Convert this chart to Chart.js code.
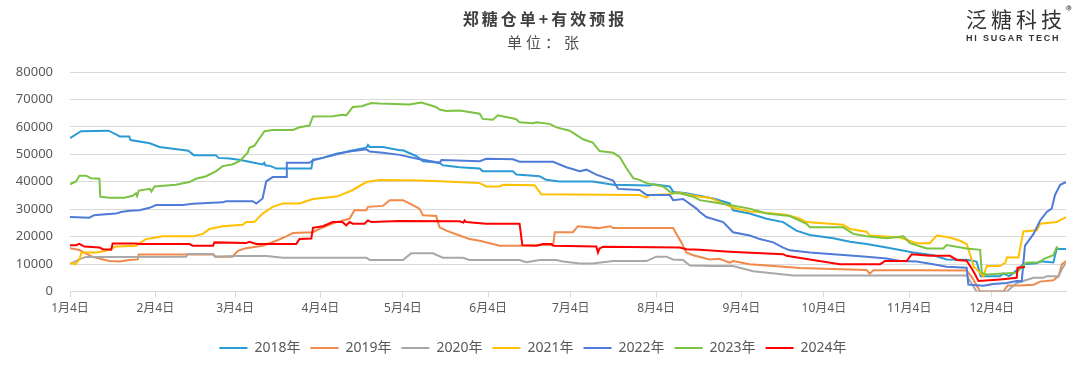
<!DOCTYPE html>
<html>
<head>
<meta charset="utf-8">
<script src="https://cdn.jsdelivr.net/npm/chart.js@4.4.1/dist/chart.umd.min.js"></script>
<style>
  html, body { margin: 0; padding: 0; background: #fff; }
  #wrap { position: relative; width: 1080px; height: 365px; font-family: "Noto Sans CJK SC", "Noto Sans", sans-serif; }
  #chart { position: absolute; left: 0; top: 0; }
  .title { position: absolute; left: 0; width: 1090px; text-align: center; color: #404040; white-space: nowrap; }
  #t1 { top: 7px; font-size: 16px; font-weight: bold; letter-spacing: 3px; line-height: 22px; }
  #t2 { top: 32px; font-size: 15px; letter-spacing: 4px; line-height: 20px; color: #505050; }
  #logo { position: absolute; left: 966px; top: 5px; color: #333; }
  #logo .cn { font-size: 21px; letter-spacing: 4px; line-height: 26px; }
  #logo .en { font-family: "Liberation Sans", sans-serif; font-size: 9px; font-weight: bold; letter-spacing: 1.8px; line-height: 10px; margin-top: 2px; }
  #logo .r { position: absolute; left: 100px; top: -4px; font-size: 12px; }
</style>
</head>
<body>
<div id="wrap">
  <canvas id="chart" width="1080" height="365"></canvas>
  <div class="title" id="t1">郑糖仓单+有效预报</div>
  <div class="title" id="t2">单位：张</div>
  <div id="logo"><div class="cn">泛糖科技</div><div class="en">HI SUGAR TECH</div><span class="r">®</span></div>
</div>
<script>
// x = 距 1月4日 的天数, y = 张
const monthTicks = [0, 31, 60, 91, 121, 152, 182, 213, 244, 274, 305, 335];
const monthLabels = ['1月4日', '2月4日', '3月4日', '4月4日', '5月4日', '6月4日',
  '7月4日', '8月4日', '9月4日', '10月4日', '11月4日', '12月4日'];
const years = ['2018年', '2019年', '2020年', '2021年', '2022年', '2023年', '2024年'];
const colors = ['#2A9BD5', '#F0894A', '#A8A8A8', '#FFC000', '#4F7BD9', '#7CC243', '#FF0000'];

const y2018 = [[0,55900],[4,58400],[14,58600],[16.5,57400],[18,56500],[21.5,56500],[22,55200],[29,54000],[32.5,52700],[41,51600],[43,51300],[45,49700],[53,49700],[54,48700],[58,48500],[62,47900],[66,47100],[70,46300],[70.6,46900],[71,46000],[73,45700],[75,44800],[87.7,44800],[88.3,48100],[91.9,48700],[97,50000],[101.6,51200],[107.7,52400],[108.3,53400],[108.9,52700],[113.7,52700],[119.8,51500],[121,51450],[125.8,49400],[128.3,47500],[134.3,46900],[135.5,46000],[141.6,45300],[148.9,44800],[150,43800],[161,43800],[162.2,42600],[170.7,42000],[173,40700],[178,40100],[190,40100],[197.4,38900],[210.7,38600],[212,39100],[218,38300],[219.2,36400],[224,35800],[233.8,33900],[239.8,32100],[241,29600],[247,28400],[253.2,26500],[259.2,25300],[264,22200],[268.9,20600],[277.4,19400],[283.5,18100],[289.5,17300],[296.8,16000],[306.5,14200],[313.8,13200],[318.6,11700],[325.9,11600],[329.5,10900],[331,5600],[338,5600],[339.2,6600],[341.3,5600],[343,6800],[346.5,9900],[351.4,10300],[352.6,11000],[357.4,10600],[358.6,15500],[362,15500]];

const y2019 = [[0,15800],[3.4,15100],[8.2,12600],[14.3,11100],[18,10900],[21.6,11500],[24.6,11700],[25,13500],[52,13500],[53,12700],[59,12700],[61,14800],[64,15800],[70,16700],[75,18500],[78.6,20100],[81,21300],[88.3,21600],[90.7,22800],[96.8,25300],[101.6,26500],[103.4,29600],[107.7,29600],[108.3,30850],[113.7,31200],[116.2,33300],[121,33300],[124.6,31500],[127,30200],[128.3,27800],[133.1,27500],[134.3,23400],[136.8,22200],[141.6,20400],[145.2,19100],[148.9,18500],[153.7,17300],[156.2,16700],[165.9,16700],[173.1,17000],[175.6,16900],[176.2,21600],[182.8,21600],[184.6,23800],[192,23100],[196.2,23800],[197.4,23100],[219.2,23100],[222.2,17900],[224,14200],[226.5,13200],[232.5,11700],[236,11900],[239.8,10500],[241,11100],[247,9900],[253.2,9500],[265.3,8600],[283.5,8000],[289.5,7800],[290.7,6500],[292,7700],[307.7,7700],[325.9,7650],[328,4900],[330.8,0],[339.2,0],[340.8,2200],[345.3,2200],[350.2,2500],[352.6,3600],[357.4,4100],[359.3,5600],[360.5,9900],[362,11100]];

const y2020 = [[0,10100],[3.4,11700],[5.8,12600],[42.2,12700],[42.8,13700],[52,13700],[52.6,12700],[60.4,12950],[71.3,12950],[77.4,12300],[107.7,12300],[108.9,11500],[121,11500],[124,13900],[131.9,13900],[135.5,12300],[142.8,12300],[145.2,11500],[163.4,11500],[165.9,10700],[170.7,11500],[176.8,11500],[179.2,10900],[185.3,10200],[190,10200],[197.4,11100],[209.5,11100],[213.1,12700],[216.8,12700],[219.2,11700],[222.8,11500],[225.3,9500],[233.8,9250],[241,9250],[248.3,7400],[262.9,5800],[325.9,5800],[329.5,0],[340.5,0],[344.1,3100],[350.2,5000],[353.8,5000],[355,5600],[359.3,5600],[360.5,8100],[362,10500]];

const y2021 = [[0,10500],[2,9900],[3.4,11700],[4.2,14200],[9.5,14200],[13,14800],[16.7,16400],[24,16700],[27.6,19100],[31.3,19700],[33.7,20100],[44.6,20100],[48.3,21000],[50.7,22800],[55.5,23800],[62.8,24300],[64,25300],[67,25300],[70,28400],[73.7,30850],[77.4,32100],[83.4,32100],[88.3,33700],[96.8,34600],[99,35400],[102.8,37000],[107.7,39900],[112.5,40600],[127,40500],[136.8,40100],[148.9,39500],[151.3,38300],[156.2,38300],[157.4,38900],[168.9,38700],[171.3,35400],[207,35200],[209.5,34200],[210.7,35200],[218,35400],[220.4,36200],[228.9,34550],[232.5,34200],[241,30500],[247,29200],[260.4,28000],[265.3,26500],[267.7,25300],[281,24300],[283.5,22800],[289.5,21800],[290.7,20400],[301.7,19700],[307.7,17600],[312.5,17600],[315,20400],[319.8,19700],[323.5,18500],[325.9,17300],[326.5,15500],[328.5,9000],[332,5600],[333.2,9300],[338,9300],[340,10500],[340.5,12400],[344.7,12400],[346.5,21900],[351.4,22300],[352.6,24700],[358.6,25300],[362,27150]];

const y2022 = [[0,27150],[7,26900],[8.8,27800],[10.7,28000],[16.7,28400],[18.5,29000],[21.6,29400],[25.2,29600],[28.9,30500],[31.3,31500],[41,31500],[44.6,32000],[55.5,32500],[56.7,32900],[66.4,32900],[67.7,32100],[70,33900],[71.3,40100],[73.7,41700],[78.6,41700],[78.8,46900],[87,46900],[88.3,47800],[91.9,48700],[96.8,50200],[101.6,51000],[107.7,51800],[108.9,51000],[113.7,50600],[119.8,49800],[125.8,48500],[134.3,46900],[135,47900],[148.9,47500],[151.3,48400],[161,48200],[163.4,47300],[175.6,47300],[180.4,45300],[185.3,43800],[187.7,44400],[191.3,42600],[197.4,40400],[199.2,37400],[207,37000],[209.5,35200],[218,35200],[219.2,33300],[222.8,33700],[227.7,30200],[228.9,29000],[231.3,27150],[237.4,25300],[241,21600],[247.1,20400],[250.7,19100],[255.6,17900],[259.2,16000],[261.6,15000],[268.9,14200],[277.4,13600],[289.5,12700],[296.8,12000],[301.7,11100],[307.7,10900],[313.8,9900],[318.6,9000],[325.9,8700],[326.5,2500],[332,2100],[335.6,2700],[340.5,3100],[344.1,3800],[345.9,3700],[347.1,16700],[350.2,21000],[352.6,25900],[355,29000],[356.8,30200],[358,35200],[359.9,38900],[362,39900]];

const y2023 = [[0,39100],[2.2,40100],[3.4,42200],[5.8,42200],[7.6,41300],[10.7,41100],[11,34550],[14.3,34200],[19.7,34200],[22.8,34900],[24,35800],[24.4,34800],[25,36800],[29,37400],[29.6,36400],[30.7,38250],[38.5,38900],[43.4,39900],[45.8,41100],[49.5,42000],[53,43800],[55.5,45700],[59,46300],[61.6,47500],[64.6,50600],[65.2,52400],[67,53100],[70.7,58400],[73.7,58900],[81,58900],[83.4,59850],[87,60500],[88.3,63800],[95.5,63900],[99,64400],[100.4,64200],[102.8,67250],[106,67500],[109.5,68700],[112.5,68500],[123.4,68200],[127.7,68900],[133,67250],[134.3,66300],[136.8,65800],[141.6,66000],[148.9,64800],[150,62900],[153.7,62600],[155.5,64200],[162,62900],[163.4,61700],[168.3,61300],[169.5,61700],[174.3,61100],[176.8,59800],[181.6,58600],[184,57100],[186.5,55500],[190,54300],[192.5,51200],[197.4,50600],[199.8,49000],[202.2,45000],[204.7,41300],[207,40700],[209.5,39500],[215.6,38300],[218,36400],[219.2,35800],[221.6,35800],[226.5,34550],[228.9,33300],[233.8,32500],[239.8,31500],[247,30200],[253.2,28400],[261.6,27500],[267.7,24700],[268.9,23400],[281,23400],[284.7,21000],[289.5,20100],[296.8,19400],[302.9,20100],[305.3,17600],[311.4,15700],[317.4,15700],[318.6,16900],[325.9,15700],[330.8,15200],[331.4,6800],[333,6200],[344,6800],[345.3,8300],[347.5,10500],[352.6,10700],[353.8,11800],[357.4,13200],[358.6,16100],[359.3,15500]];

const y2024 = [[0,16900],[2.2,16900],[3.4,17400],[5.2,16400],[10.7,16000],[12,15400],[15,15200],[15.5,17500],[24,17500],[25.2,17300],[43.4,17300],[44.6,16700],[52,16700],[52.5,17900],[64,17650],[65.2,18100],[67.7,17300],[82.2,17300],[83.4,19100],[87.7,19300],[88.3,23200],[91.9,23800],[95.5,25300],[99,25300],[100.4,24100],[101.6,25300],[102.8,24700],[107,24700],[108.3,25900],[109.5,25300],[119.8,25700],[141.6,25600],[143,25100],[143.4,25900],[144,25300],[151.3,24700],[163.4,24700],[164.4,16900],[169.5,16700],[171.9,17300],[175,17300],[175.6,16700],[191.3,16400],[191.9,14200],[192.5,15700],[193.7,16300],[221.6,16000],[224,15400],[228.9,15200],[239.8,14500],[259.2,13600],[260.4,13000],[268.9,11700],[279.8,9900],[294.4,9900],[296.2,11100],[304.1,11100],[305.9,13600],[312.5,13000],[319.8,13000],[322.3,11500],[325.9,11200],[328.3,7500],[330.2,3800],[338,4400],[344.1,5000],[344.4,8700],[347.1,8900]];

const series = [y2018, y2019, y2020, y2021, y2022, y2023, y2024];

const datasets = series.map((s, i) => ({
    label: years[i],
    data: s.map(p => ({ x: p[0], y: p[1] })),
    borderColor: colors[i],
    backgroundColor: colors[i],
    borderWidth: 2,
    pointRadius: 0,
    tension: 0,
    fill: false,
    order: series.length - 1 - i   // 2024 画在最上层
}));

const tickFont = { family: '"Noto Sans", "Noto Sans CJK SC", sans-serif', size: 13 };

new Chart(document.getElementById('chart'), {
    type: 'line',
    data: { datasets: datasets },
    options: {
        responsive: false,
        animation: false,
        devicePixelRatio: 1,
        layout: { padding: { left: 0, right: 14, top: 72, bottom: 0 } },
        scales: {
            x: {
                type: 'linear',
                min: 0,
                max: 362,
                afterBuildTicks: scale => { scale.ticks = monthTicks.map(v => ({ value: v })); },
                afterFit: scale => { scale.height = 39.5; },
                ticks: {
                    autoSkip: false,
                    maxRotation: 0,
                    padding: 4,
                    color: '#595959',
                    font: { family: tickFont.family, size: 12 },
                    callback: v => monthLabels[monthTicks.indexOf(v)]
                },
                grid: { drawOnChartArea: false, color: '#D9D9D9', tickLength: 6 },
                border: { color: '#D9D9D9', width: 1 }
            },
            y: {
                min: 0,
                max: 80000,
                afterFit: scale => { scale.width = 70; },
                ticks: { stepSize: 10000, padding: 17, color: '#595959', font: tickFont, callback: v => String(v) },
                grid: { color: '#D9D9D9', drawTicks: false },
                border: { display: false }
            }
        },
        plugins: {
            legend: {
                position: 'bottom',
                labels: {
                    usePointStyle: true,
                    pointStyle: 'line',
                    pointStyleWidth: 28,
                    boxHeight: 13,
                    padding: 10,
                    color: '#595959',
                    font: { family: tickFont.family, size: 14 },
                    sort: (a, b) => a.datasetIndex - b.datasetIndex
                }
            },
            tooltip: { enabled: false }
        }
    }
});
</script>
</body>
</html>
